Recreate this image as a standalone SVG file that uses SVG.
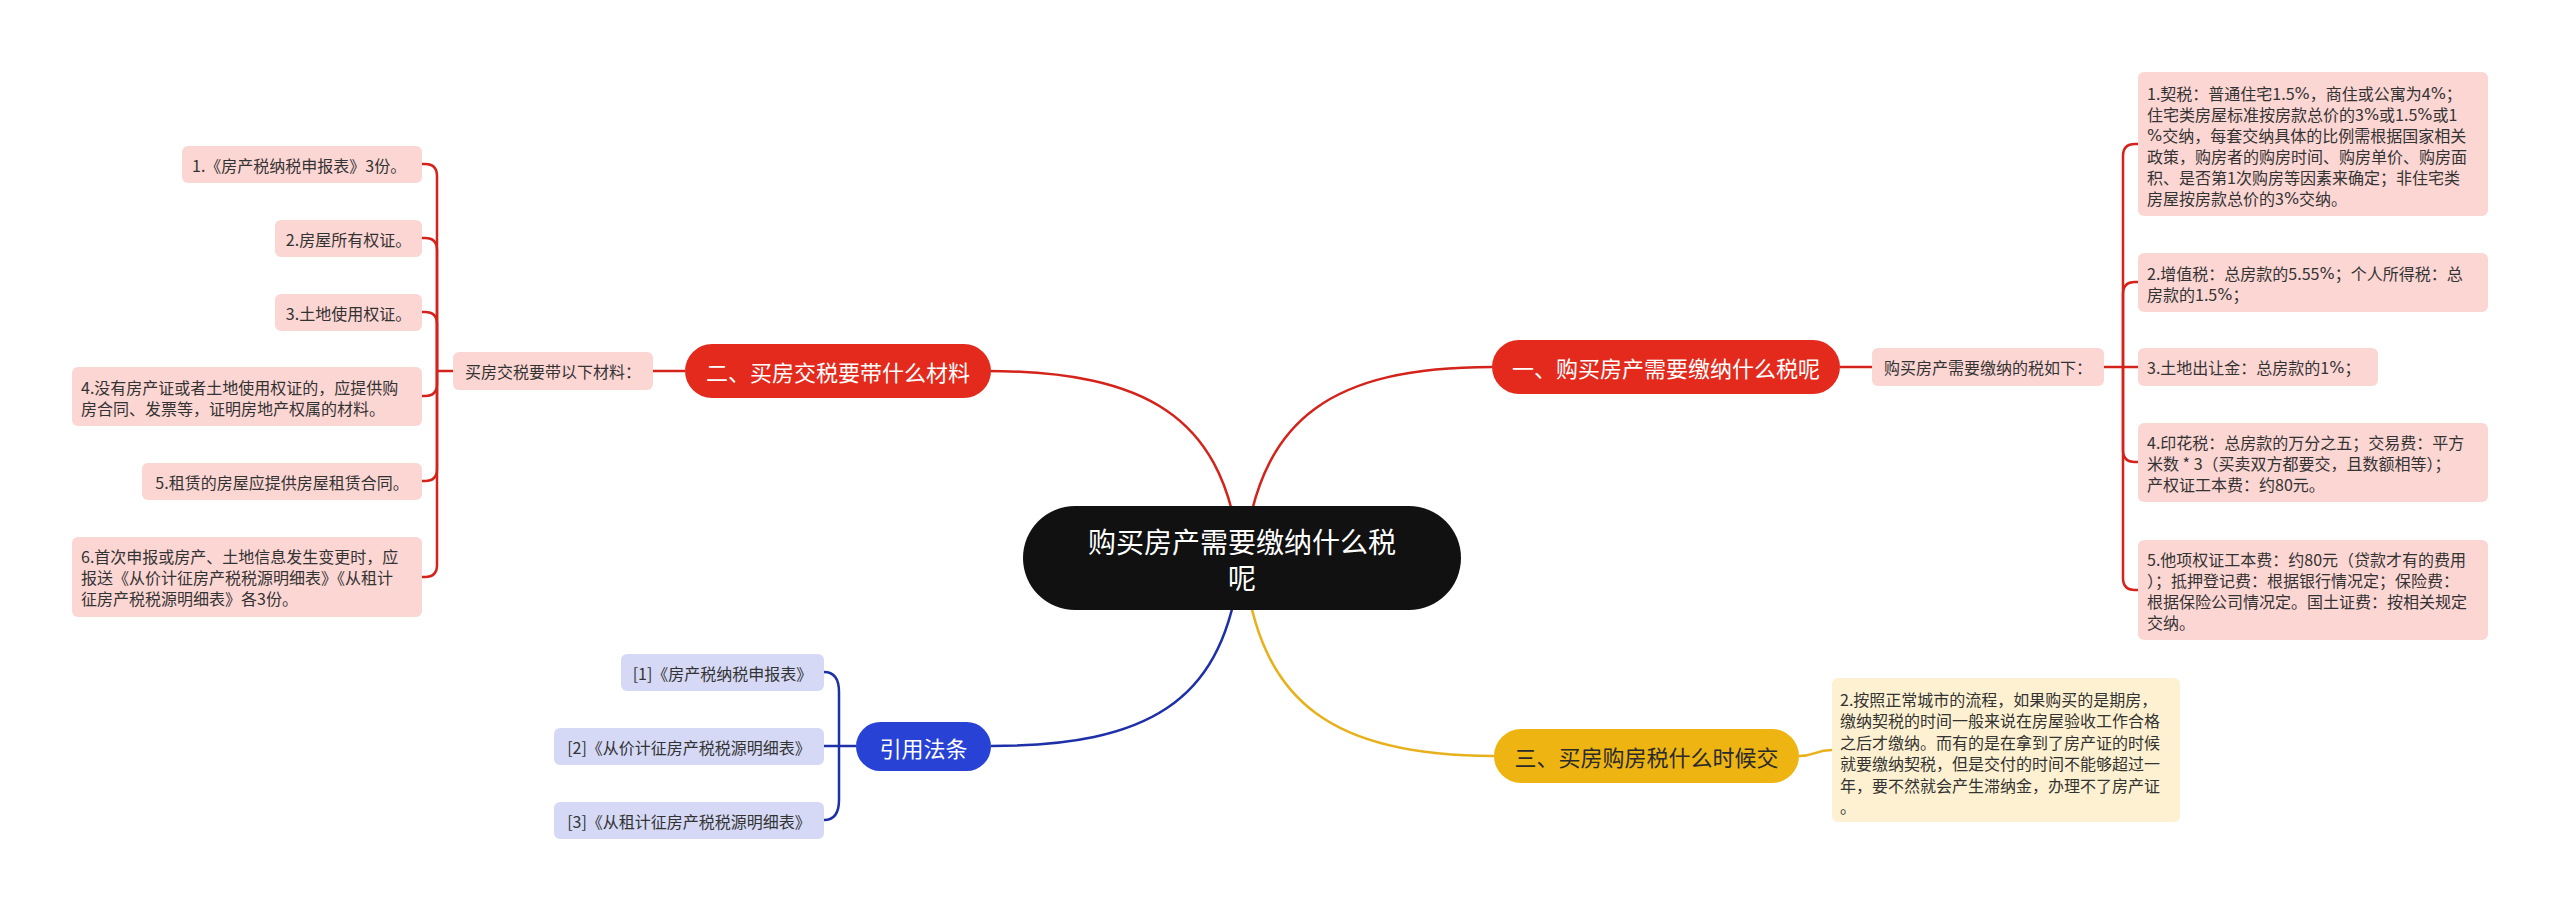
<svg xmlns="http://www.w3.org/2000/svg" width="2560" height="911" viewBox="0 0 2560 911">
<style>
text{font-family:"Noto Sans CJK SC","Noto Sans",sans-serif;dominant-baseline:central}
.p{font-family:"DejaVu Sans",sans-serif}
.root{fill:#111111}
.rootT{fill:#ffffff;font-size:28px;text-anchor:middle}
.red{fill:#E32A1D}
.blue{fill:#2742D4}
.yel{fill:#EEB512}
.mainT{fill:#ffffff;font-size:22px;text-anchor:middle}
.mainD{fill:#2a2a2a;font-size:22px;text-anchor:middle}
.pink{fill:#FCD6D3}
.lblue{fill:#D5D9F6}
.lyel{fill:#FDF1D1}
.lt{fill:#333333;font-size:16px}
.ltc{fill:#333333;font-size:16px;text-anchor:middle}
.cr{fill:none;stroke:#D4231A;stroke-width:2.5}
.cb{fill:none;stroke:#1E30A8;stroke-width:2.5}
.cy{fill:none;stroke:#E8B11C;stroke-width:2.5}
</style>
<rect width="2560" height="911" fill="#ffffff"/>
<g id="connectors">
<path class="cr" d="M1246 540 C1265 420 1330 367 1492 367"/>
<path class="cr" d="M1238 540 C1219 420 1150 371 986 371"/>
<path class="cb" d="M1238 580 C1219 700 1150 746 991 746"/>
<path class="cy" d="M1246 580 C1265 700 1330 756 1494 756"/>
<path class="cr" d="M1840 367 H1872"/>
<path class="cr" d="M2104 367 H2123"/>
<path class="cr" d="M2123 367 V156 Q2123 144 2135 144 H2138"/>
<path class="cr" d="M2123 367 V294 Q2123 282 2135 282 H2138"/>
<path class="cr" d="M2123 367 H2138"/>
<path class="cr" d="M2123 367 V450 Q2123 462 2135 462 H2138"/>
<path class="cr" d="M2123 367 V578 Q2123 590 2135 590 H2138"/>
<path class="cr" d="M685 371 H653"/>
<path class="cr" d="M453 371 H437"/>
<path class="cr" d="M437 371 V176 Q437 164 425 164 H422"/>
<path class="cr" d="M437 371 V250 Q437 238 425 238 H422"/>
<path class="cr" d="M437 371 V324 Q437 312 425 312 H422"/>
<path class="cr" d="M437 371 V384 Q437 396 425 396 H422"/>
<path class="cr" d="M437 371 V469 Q437 481 425 481 H422"/>
<path class="cr" d="M437 371 V565 Q437 577 425 577 H422"/>
<path class="cb" d="M856 746 H824"/>
<path class="cb" d="M824 672 Q839 672 839 692 V800 Q839 820 824 820"/>
<path class="cy" d="M1799 756 C1815 756 1815 750 1832 750"/>
</g>
<g id="root">
<rect class="root" x="1023" y="506" width="438" height="104" rx="52"/>
<text class="rootT" x="1242" y="541">购买房产需要缴纳什么税</text>
<text class="rootT" x="1242" y="577">呢</text>
</g>
<g id="n1">
<rect class="red" x="1492" y="340" width="348" height="54" rx="27"/>
<text class="mainT" x="1666" y="367">一、购买房产需要缴纳什么税呢</text>
</g>
<g id="n1s">
<rect class="pink" x="1872" y="348" width="232" height="38" rx="6"/>
<text class="ltc" x="1988" y="367">购买房产需要缴纳的税如下：</text>
</g>
<g id="n1a">
<rect class="pink" x="2138" y="72" width="350" height="144" rx="6"/>
<text class="lt" x="2147" y="93">1.契税：普通住宅1.5<tspan class="p">%</tspan>，商住或公寓为4<tspan class="p">%</tspan>；</text>
<text class="lt" x="2147" y="114">住宅类房屋标准按房款总价的3<tspan class="p">%</tspan>或1.5<tspan class="p">%</tspan>或1</text>
<text class="lt" x="2147" y="135"><tspan class="p">%</tspan>交纳，每套交纳具体的比例需根据国家相关</text>
<text class="lt" x="2147" y="156">政策，购房者的购房时间、购房单价、购房面</text>
<text class="lt" x="2147" y="177">积、是否第1次购房等因素来确定；非住宅类</text>
<text class="lt" x="2147" y="198">房屋按房款总价的3<tspan class="p">%</tspan>交纳。</text>
</g>
<g id="n1b">
<rect class="pink" x="2138" y="253" width="350" height="59" rx="6"/>
<text class="lt" x="2147" y="273">2.增值税：总房款的5.55<tspan class="p">%</tspan>；个人所得税：总</text>
<text class="lt" x="2147" y="294">房款的1.5<tspan class="p">%</tspan>；</text>
</g>
<g id="n1c">
<rect class="pink" x="2138" y="348" width="240" height="38" rx="6"/>
<text class="lt" x="2147" y="367">3.土地出让金：总房款的1<tspan class="p">%</tspan>；</text>
</g>
<g id="n1d">
<rect class="pink" x="2138" y="423" width="350" height="79" rx="6"/>
<text class="lt" x="2147" y="442">4.印花税：总房款的万分之五；交易费：平方</text>
<text class="lt" x="2147" y="463">米数 * 3（买卖双方都要交，且数额相等）；</text>
<text class="lt" x="2147" y="484">产权证工本费：约80元。</text>
</g>
<g id="n1e">
<rect class="pink" x="2138" y="540" width="350" height="100" rx="6"/>
<text class="lt" x="2147" y="559">5.他项权证工本费：约80元（贷款才有的费用</text>
<text class="lt" x="2147" y="580">）；抵押登记费：根据银行情况定；保险费：</text>
<text class="lt" x="2147" y="601">根据保险公司情况定。国土证费：按相关规定</text>
<text class="lt" x="2147" y="622">交纳。</text>
</g>
<g id="n2">
<rect class="red" x="685" y="344" width="306" height="54" rx="27"/>
<text class="mainT" x="838" y="371">二、买房交税要带什么材料</text>
</g>
<g id="n2s">
<rect class="pink" x="453" y="352" width="200" height="38" rx="6"/>
<text class="ltc" x="553" y="371">买房交税要带以下材料：</text>
</g>
<g id="n2a">
<rect class="pink" x="182" y="146" width="240" height="37" rx="6"/>
<text class="lt" x="192" y="164.5">1.《房产税纳税申报表》3份。</text>
</g>
<g id="n2b">
<rect class="pink" x="275" y="220" width="147" height="37" rx="6"/>
<text class="ltc" x="348.5" y="238.5">2.房屋所有权证。</text>
</g>
<g id="n2c">
<rect class="pink" x="275" y="294" width="147" height="37" rx="6"/>
<text class="ltc" x="348.5" y="312.5">3.土地使用权证。</text>
</g>
<g id="n2d">
<rect class="pink" x="72" y="367" width="350" height="59" rx="6"/>
<text class="lt" x="81" y="387">4.没有房产证或者土地使用权证的，应提供购</text>
<text class="lt" x="81" y="408">房合同、发票等，证明房地产权属的材料。</text>
</g>
<g id="n2e">
<rect class="pink" x="142" y="463" width="280" height="37" rx="6"/>
<text class="ltc" x="282" y="481.5">5.租赁的房屋应提供房屋租赁合同。</text>
</g>
<g id="n2f">
<rect class="pink" x="72" y="537" width="350" height="80" rx="6"/>
<text class="lt" x="81" y="556">6.首次申报或房产、土地信息发生变更时，应</text>
<text class="lt" x="81" y="577">报送《从价计征房产税税源明细表》《从租计</text>
<text class="lt" x="81" y="598">征房产税税源明细表》各3份。</text>
</g>
<g id="n3">
<rect class="yel" x="1494" y="729" width="305" height="54" rx="27"/>
<text class="mainD" x="1646.5" y="756">三、买房购房税什么时候交</text>
</g>
<g id="n3a">
<rect class="lyel" x="1832" y="678" width="348" height="144" rx="6"/>
<text class="lt" x="1840" y="699">2.按照正常城市的流程，如果购买的是期房，</text>
<text class="lt" x="1840" y="720">缴纳契税的时间一般来说在房屋验收工作合格</text>
<text class="lt" x="1840" y="742">之后才缴纳。而有的是在拿到了房产证的时候</text>
<text class="lt" x="1840" y="763">就要缴纳契税，但是交付的时间不能够超过一</text>
<text class="lt" x="1840" y="785">年，要不然就会产生滞纳金，办理不了房产证</text>
<text class="lt" x="1840" y="806">。</text>
</g>
<g id="n4">
<rect class="blue" x="856" y="722" width="135" height="49" rx="24.5"/>
<text class="mainT" x="923.5" y="746.5">引用法条</text>
</g>
<g id="n4a">
<rect class="lblue" x="621" y="654" width="203" height="37" rx="6"/>
<text class="ltc" x="722.5" y="672.5">[1]《房产税纳税申报表》</text>
</g>
<g id="n4b">
<rect class="lblue" x="554" y="728" width="270" height="37" rx="6"/>
<text class="ltc" x="689" y="746.5">[2]《从价计征房产税税源明细表》</text>
</g>
<g id="n4c">
<rect class="lblue" x="554" y="802" width="270" height="37" rx="6"/>
<text class="ltc" x="689" y="820.5">[3]《从租计征房产税税源明细表》</text>
</g>
</svg>
